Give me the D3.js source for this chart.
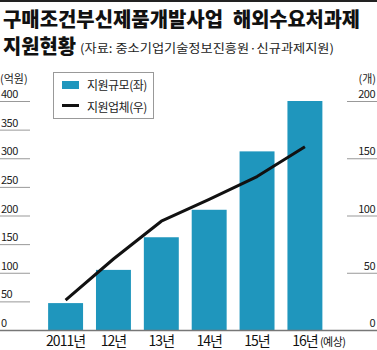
<!DOCTYPE html>
<html>
<head>
<meta charset="utf-8">
<script src="https://cdn.jsdelivr.net/npm/d3@7"></script>
<style>
  body { margin: 0; background: #fff; }
  svg { display: block; font-family: "Noto Sans CJK KR", "Noto Sans", sans-serif; }
</style>
</head>
<body>
<script>
// chart data
const years = ["2011년", "12년", "13년", "14년", "15년", "16년"];
const amounts = [47, 105, 162, 210, 312, 400];     // 지원규모 (억원, left)
const companies = [26, 62, 95, 114, 134, 160];     // 지원업체 (개, right)
const leftTicks = [0, 50, 100, 150, 200, 250, 300, 350, 400];
const rightTicks = [0, 50, 100, 150, 200];

const W = 377, H = 350;
const svg = d3.select("body").append("svg")
  .attr("width", W)
  .attr("height", H);

// top rule
svg.append("rect").attr("x", 0).attr("y", 0).attr("width", W).attr("height", 2).attr("fill", "#222");

// title
const titleBits = [
  { t: "구매조건부신제품개발사업", x: 3, y: 27, w: 220, fs: 20 },
  { t: "해외수요처과제", x: 233, y: 27, w: 127, fs: 20 },
  { t: "지원현황", x: 3, y: 54, w: 73, fs: 20 }
];
svg.selectAll("text.title").data(titleBits).join("text")
  .attr("class", "title")
  .attr("x", d => d.x).attr("y", d => d.y)
  .attr("font-size", d => d.fs).attr("font-weight", 900)
  .attr("textLength", d => d.w).attr("lengthAdjust", "spacingAndGlyphs")
  .attr("fill", "#111")
  .text(d => d.t);
svg.append("text")
  .attr("x", 80).attr("y", 53)
  .attr("font-size", 12)
  .attr("textLength", 254).attr("lengthAdjust", "spacingAndGlyphs")
  .attr("fill", "#222")
  .text("(자료: 중소기업기술정보진흥원·신규과제지원)");

// scales
const y0 = 330, yTop = 101;
const x = d3.scaleBand().domain(years).range([39.5, 331]).paddingInner(0.27).paddingOuter(0.18);
const yL = d3.scaleLinear().domain([0, 400]).range([y0, yTop]);
const yR = d3.scaleLinear().domain([0, 200]).range([y0, yTop]);

// left axis ticks
const gl = svg.append("g");
gl.selectAll("line").data(leftTicks.filter(d => d > 0)).join("line")
  .attr("x1", 0).attr("x2", 30)
  .attr("y1", d => yL(d) + 0.5).attr("y2", d => yL(d) + 0.5)
  .attr("stroke", "#999").attr("stroke-width", 1);
gl.selectAll("text").data(leftTicks).join("text")
  .attr("x", 1).attr("y", d => yL(d) - 3)
  .attr("font-size", 11).attr("letter-spacing", -0.5).attr("fill", "#222")
  .text(d => d);

// right axis ticks
const gr = svg.append("g");
gr.selectAll("line").data(rightTicks.filter(d => d > 0)).join("line")
  .attr("x1", 347).attr("x2", W)
  .attr("y1", d => yR(d) + 0.5).attr("y2", d => yR(d) + 0.5)
  .attr("stroke", "#999").attr("stroke-width", 1);
gr.selectAll("text").data(rightTicks).join("text")
  .attr("x", 375).attr("y", d => yR(d) - 3)
  .attr("text-anchor", "end")
  .attr("font-size", 11).attr("letter-spacing", -0.5).attr("fill", "#222")
  .text(d => d);

// units
svg.append("text").attr("x", 0).attr("y", 83).attr("font-size", 11).attr("fill", "#222").text("(억원)");
svg.append("text").attr("x", 376).attr("y", 83).attr("text-anchor", "end").attr("font-size", 11).attr("fill", "#222").text("(개)");

// bars
svg.selectAll("rect.bar").data(amounts).join("rect")
  .attr("class", "bar")
  .attr("x", (d, i) => x(years[i]))
  .attr("width", x.bandwidth())
  .attr("y", d => yL(d))
  .attr("height", d => y0 - yL(d))
  .attr("fill", "#1f96bd");

// baseline
svg.append("line").attr("x1", 0).attr("x2", W).attr("y1", y0 + 0.5).attr("y2", y0 + 0.5)
  .attr("stroke", "#777").attr("stroke-width", 1.5);

// line
const line = d3.line()
  .x((d, i) => x(years[i]) + x.bandwidth() / 2)
  .y(d => yR(d));
svg.append("path").datum(companies)
  .attr("d", line)
  .attr("fill", "none").attr("stroke", "#111").attr("stroke-width", 3)
  .attr("stroke-linejoin", "round");

// x labels
svg.selectAll("text.xl").data(years).join("text")
  .attr("class", "xl")
  .attr("x", d => x(d) + x.bandwidth() / 2)
  .attr("y", 346)
  .attr("text-anchor", "middle")
  .attr("font-size", 14).attr("letter-spacing", -1).attr("fill", "#111")
  .text(d => d);
svg.append("text")
  .attr("x", x(years[5]) + x.bandwidth() / 2 + 15).attr("y", 346)
  .attr("font-size", 11).attr("letter-spacing", -0.5).attr("fill", "#111")
  .text("(예상)");

// legend
const lg = svg.append("g");
lg.append("rect").attr("x", 53.5).attr("y", 72.5).attr("width", 100).attr("height", 46)
  .attr("fill", "#fff").attr("stroke", "#999");
lg.append("rect").attr("x", 62).attr("y", 81).attr("width", 17).attr("height", 8).attr("fill", "#1f96bd");
lg.append("line").attr("x1", 62).attr("x2", 79).attr("y1", 105.5).attr("y2", 105.5)
  .attr("stroke", "#111").attr("stroke-width", 3);
lg.append("text").attr("x", 87).attr("y", 90).attr("font-size", 12).attr("letter-spacing", -0.5).attr("fill", "#222").text("지원규모(좌)");
lg.append("text").attr("x", 87).attr("y", 112).attr("font-size", 12).attr("letter-spacing", -0.5).attr("fill", "#222").text("지원업체(우)");
</script>
</body>
</html>
